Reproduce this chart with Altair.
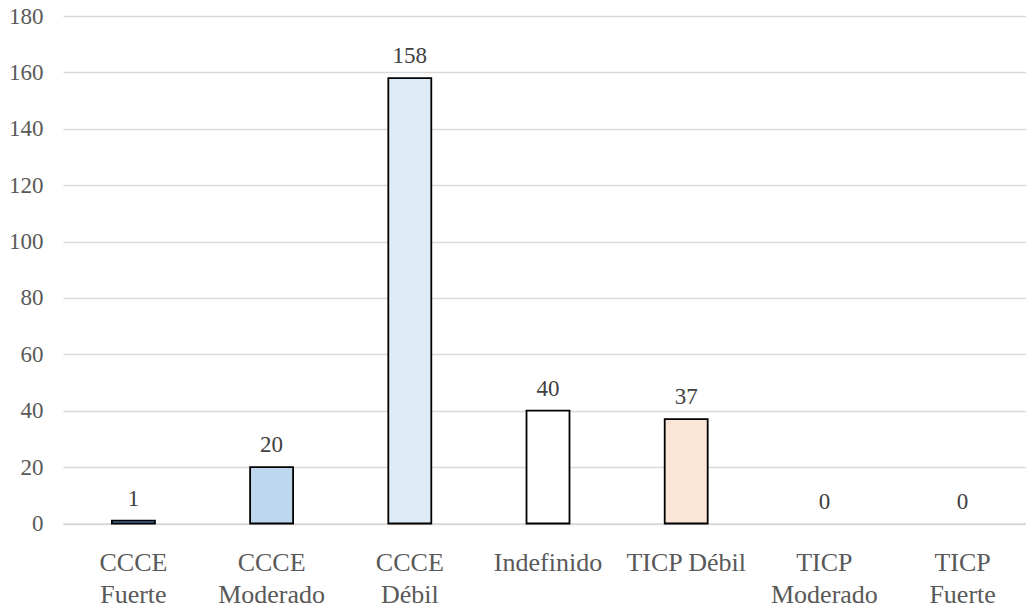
import altair as alt
import pandas as pd

categories = ["CCCE\nFuerte", "CCCE\nModerado", "CCCE\nDébil", "Indefinido",
              "TICP Débil", "TICP\nModerado", "TICP\nFuerte"]
values = [1, 20, 158, 40, 37, 0, 0]
colors = ["#5b9bd5", "#bdd7ee", "#ddebf7", "#ffffff", "#fbe5d6", "#f8cbad", "#f4b183"]

df = pd.DataFrame({"cat": categories, "value": values, "color": colors})

FONT = "Liberation Serif"

x = alt.X("cat:N", sort=categories, title=None,
          scale=alt.Scale(range=[0, 970], paddingInner=0.689, paddingOuter=0.354),
          axis=alt.Axis(labelAngle=0, labelExpr="split(datum.label, '\\n')",
                        labelFont=FONT, labelFontSize=26, labelColor="#595959",
                        labelPadding=26, labelLineHeight=32, ticks=False,
                        domainColor="#d9d9d9", domainWidth=1.5, grid=False))

y = alt.Y("value:Q", title=None,
          scale=alt.Scale(domain=[0, 180], nice=False),
          axis=alt.Axis(values=list(range(0, 181, 20)), labelFont=FONT,
                        labelFontSize=23, labelColor="#595959", ticks=False,
                        domain=False, gridColor="#d9d9d9", gridWidth=1.5,
                        labelPadding=20))

base = alt.Chart(df)

bars = base.transform_filter("datum.value > 0").mark_bar(
    stroke="#000000", strokeWidth=1.8
).encode(x=x, y=y, fill=alt.Fill("color:N", scale=None))

labels = base.mark_text(baseline="alphabetic", dy=-15, font=FONT, fontSize=23,
                        color="#404040").encode(
    x=alt.X("cat:N", sort=categories), y="value:Q", text="value:Q")

chart = (bars + labels).properties(
    width=963, height=507.5,
    autosize=alt.AutoSizeParams(type="none"),
    padding={"left": 63, "top": 16, "right": 0, "bottom": 86.5},
).configure_view(stroke=None)

chart.save("out.html", embed_options={"renderer": "svg", "actions": False})
